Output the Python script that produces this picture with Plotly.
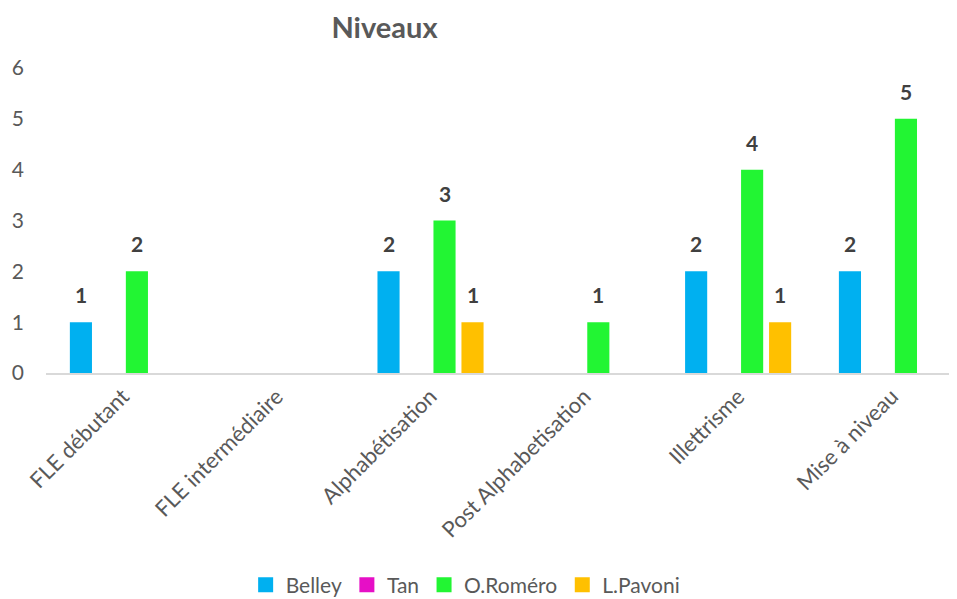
import plotly.graph_objects as go

categories = ["FLE débutant", "FLE intermédiaire", "Alphabétisation",
              "Post Alphabetisation", "Illettrisme", "Mise à niveau"]
belley = [1, None, 2, None, 2, 2]
tan = [None, None, None, None, None, None]
romero = [2, None, 3, 1, 4, 5]
pavoni = [None, None, 1, None, 1, None]
series_names = ["Belley", "Tan", "O.Roméro", "L.Pavoni"]
series_values = [belley, tan, romero, pavoni]
colors = ["#00B0F0", "#E60FC6", "#22F533", "#FFC000"]
y_ticks = [0, 1, 2, 3, 4, 5, 6]

FONT = "Lato"
GREY = "#595959"
bargap = 0.272
bargroupgap = 0.21
W, H = 957, 599
OFF = 8  # page body margin

fig = go.Figure()
for name, vals, col in zip(series_names, series_values, colors):
    fig.add_trace(go.Bar(
        x=categories, y=vals, name=name, showlegend=False,
        marker=dict(color=col, line=dict(width=0)),
    ))
# legend entries with larger square swatches
for name, col in zip(series_names, colors):
    fig.add_trace(go.Scatter(
        x=[None], y=[None], name=name, mode="markers",
        marker=dict(symbol="square", size=15, color=col),
    ))

# data labels
n = len(series_names)
slot = (1 - bargap) / n
annotations = []
for k, vals in enumerate(series_values):
    for i, v in enumerate(vals):
        if v is None:
            continue
        annotations.append(dict(
            x=i + (k - (n - 1) / 2) * slot, y=v, xref="x", yref="y",
            text=str(v), showarrow=False, yanchor="bottom", yshift=13,
            font=dict(family=FONT, size=21, color="#404040", weight="bold"),
        ))

top, bottom = 68 - OFF, 373 - OFF
fig.update_layout(
    width=W, height=H,
    paper_bgcolor="white", plot_bgcolor="white",
    margin=dict(l=46 - OFF, r=0, t=top, b=H - bottom, autoexpand=False),
    barmode="group", bargap=bargap, bargroupgap=bargroupgap,
    title=dict(text="<b>Niveaux</b>", x=(384.5 - OFF) / W, xanchor="center",
               y=1 - (28 - OFF) / H, yanchor="middle",
               font=dict(family=FONT, size=29, color=GREY)),
    font=dict(family=FONT, color=GREY),
    showlegend=True,
    legend=dict(orientation="h", x=(445 - OFF) / W, xanchor="center",
                y=-(585 - OFF - bottom) / (bottom - top), yanchor="middle",
                font=dict(family=FONT, size=21, color=GREY),
                itemwidth=30, tracegroupgap=0),
    annotations=annotations,
    xaxis=dict(
        type="category", range=[-0.5, 5.475], automargin=False,
        tickangle=-45, tickfont=dict(family=FONT, size=22, color=GREY),
        showline=True, linecolor="#D9D9D9", linewidth=2,
        ticks="", showgrid=False, zeroline=False,
    ),
    yaxis=dict(
        range=[0, 6], tickvals=y_ticks, ticktext=[str(t) for t in y_ticks],
        tickfont=dict(family=FONT, size=21, color=GREY), automargin=False,
        showgrid=False, zeroline=False, showline=False, ticks="",
        ticklabelstandoff=21,
    ),
)

fig.write_html("out.html")
